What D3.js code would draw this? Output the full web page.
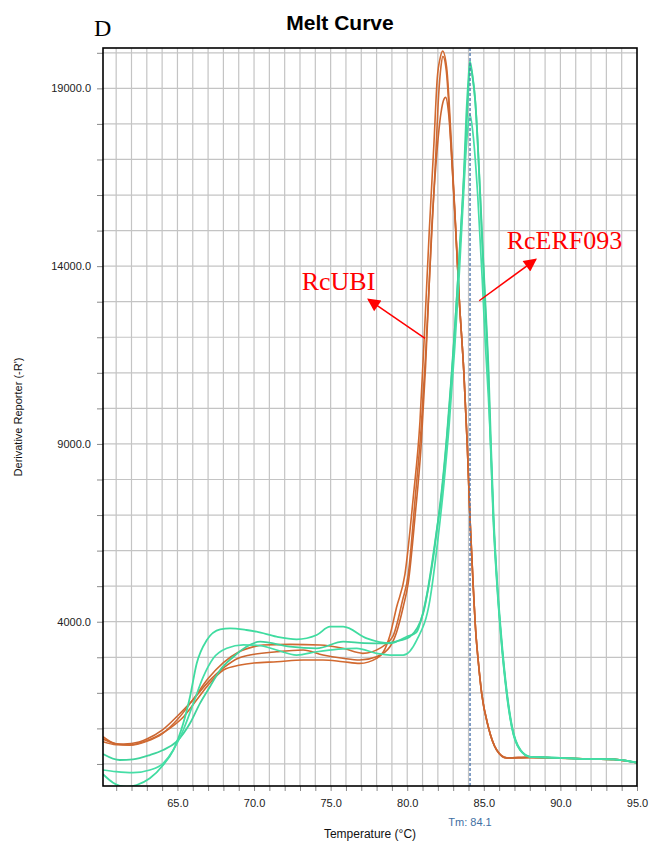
<!DOCTYPE html>
<html><head><meta charset="utf-8">
<script src="https://cdn.jsdelivr.net/npm/d3@7/dist/d3.min.js"></script>
<style>body{margin:0;background:#fff}</style>
</head><body>
<svg id="chart" width="663" height="845"></svg>
<script>
// ---------- data (temperature °C, derivative reporter -R') ----------
const ubiA_T = [60.14,61.0,61.9,62.8,63.6,64.5,65.4,66.25,67.1,68.0,69.1,70.0,71.5,73.2,74.5,75.8,76.9,78.0,78.45,78.87,79.3,79.85,80.39,80.83,81.11,81.44,81.75,81.96,82.15,82.31,82.57,82.9,83.1,83.4,83.7,83.92,84.09,84.31,84.48,84.63,84.86,85.29,85.84,86.49,88.0,90.0,92.0,93.5,94.4,95.0];
const ubiA_V = [766,561,532,625,766,1002,1328,1798,2268,2642,2782,2840,2875,2923,2923,2875,2829,2971,3156,3615,4400,5333,7478,9624,11987,14993,17500,19284,19850,20050,19600,17300,15600,13047,10985,8969,6981,4984,3674,2923,1986,1047,392,170,185,165,140,130,83,35];

const ubiB_T = [60.14,61.0,61.9,63.0,64.0,65.0,66.0,67.0,68.0,69.0,70.0,70.6,72.35,74.3,75.8,77.1,78.2,79.05,79.7,80.07,80.52,80.9,81.2,81.55,81.85,82.05,82.2,82.33,82.55,82.9,83.15,83.4,83.7,83.92,84.09,84.31,84.48,84.63,84.86,85.29,85.84,86.49,88,90,92,93.5,94.4,95];
const ubiB_V = [625,540,530,640,850,1250,1800,2400,2850,3150,3300,3345,3364,3345,3252,3111,3252,3578,4610,5333,7478,9400,11500,14500,17000,18800,19600,19900,19500,17100,15200,13047,10985,8969,6981,4984,3674,2923,1986,1047,392,170,185,165,140,130,83,35];

const ubiC_T = [60.14,61.0,61.5,62.5,63.0,64.0,65.0,66.0,67.0,68.0,69.0,69.73,71.47,73.2,74.5,75.8,76.9,78.0,78.87,79.3,79.74,80.07,80.52,80.9,81.2,81.59,81.9,82.2,82.4,82.51,82.7,83.0,83.2,83.4,83.7,83.92,84.09,84.31,84.48,84.63,84.86,85.29,85.84,86.49,88,90,92,93.5,94.4,95];
const ubiC_V = [700,570,560,620,700,950,1350,1800,2300,2700,2980,3063,3156,3204,3063,2971,2923,3016,3297,3700,4422,5100,7000,8900,11200,14993,17000,18300,18700,18747,18300,16300,14700,13047,10985,8969,6981,4984,3674,2923,1986,1047,392,170,185,165,140,130,83,35];

const erfA_T = [60.14,60.8,61.68,62.34,63.2,64.07,64.73,65.38,65.82,66.26,66.92,67.79,68.43,69.5,70.17,71.47,72.78,74.09,74.96,75.82,77.36,78.87,79.96,80.6,81.0,81.3,81.6,81.9,82.2,82.5,82.75,83.0,83.25,83.5,83.7,83.85,84.0,84.09,84.25,84.42,84.6,84.75,84.9,85.07,85.29,85.44,85.61,85.87,86.1,86.49,86.82,87.36,88.01,89,90,91.8,93.5,94.4,95];
const erfA_V = [-290,-528,-640,-592,-404,-30,392,1143,1892,2830,3485,3786,3814,3767,3719,3578,3505,3626,3860,3860,3533,3393,3578,3700,4200,4800,5600,6500,7400,8700,10000,11500,13200,15000,16600,18200,19300,19768,19400,18747,17500,16064,14600,13047,10985,8969,6981,4984,3674,1986,1047,392,200,185,170,139,130,83,35];

const erfB_T = [60.14,61.23,62.1,63.2,64.07,64.94,65.82,66.47,67.12,67.79,68.66,69.5,70.4,72.35,74.09,75.82,77.2,78.43,79.3,80.17,81.04,81.4,81.7,82.0,82.3,82.6,82.85,83.1,83.35,83.6,83.8,83.95,84.1,84.27,84.45,84.62,84.78,84.95,85.1,85.32,85.47,85.64,85.9,86.13,86.52,86.85,87.4,88.05,89,90,91.8,93.5,94.4,95];
const erfB_V = [280,111,130,251,392,625,1143,1705,2172,2642,3016,3297,3438,3297,3252,3438,3400,3393,3450,3578,4236,5000,5800,6800,7900,9300,10700,12200,13900,15700,17300,18600,19650,19300,18600,17300,15900,14300,13000,10950,8950,6950,4950,3650,1970,1040,390,200,185,170,139,130,83,35];

const erfC_T = [60.14,61.0,62.1,63.2,64.07,64.73,65.38,66.04,66.69,67.34,68.22,69.3,70.4,71.47,72.78,74.09,75.5,76.7,78.0,78.87,79.74,80.62,81.48,82.0,82.4,82.75,83.1,83.4,83.65,83.9,84.09,84.3,84.6,84.9,85.1,85.3,85.45,85.62,85.88,86.11,86.5,86.83,87.38,88.02,89,90,91.8,93.5,94.4,95];
const erfC_V = [-170,-218,-246,-170,18,392,955,1705,2454,2971,3252,3350,3330,3204,3063,3156,3230,3252,3111,3063,3063,3485,4610,6300,7900,9600,11700,13800,15800,17600,18266,17700,16000,13600,11800,10300,8950,6970,4970,3660,1980,1045,390,200,185,170,139,130,83,35];

const xMinorTicks = d3.range(61, 96, 1);
const xTickLabels = [65, 70, 75, 80, 85, 90, 95];
const yMinorTicks = d3.range(0, 20001, 1000);
const yTickLabels = [4000, 9000, 14000, 19000];
const tmValue = 84.1;
const geneLabels = ["RcUBI", "RcERF093"];
// annotation anchors in data space: [textX, textY, tailX, tailY, tipX, tipY]
const ubiNote = [73.11, 13328, 81.16, 11970, 77.45, 13066];
const erfNote = [86.49, 14481, 84.70, 13027, 88.40, 14191];

// ---------- drawing ----------
const svg = d3.select("#chart");
const L = 103, R = 637, T = 48, B = 786;
const x = d3.scaleLinear().domain([60.14, 95]).range([L, R]);
const y = d3.scaleLinear().domain([-620, 20135]).range([B, T]);

svg.append("rect").attr("width", 663).attr("height", 845).attr("fill", "#fff");

svg.append("defs").append("clipPath").attr("id", "plotclip")
  .append("rect").attr("x", L).attr("y", T).attr("width", R - L).attr("height", B - T);

// grid
const grid = svg.append("g");
grid.selectAll("line.v").data(xMinorTicks.filter(d => d < 95)).join("line")
  .attr("x1", d => x(d)).attr("x2", d => x(d)).attr("y1", T).attr("y2", B)
  .attr("stroke", "#c4c4c4").attr("stroke-width", 1.2);
grid.selectAll("line.h").data(yMinorTicks).join("line")
  .attr("x1", L).attr("x2", R).attr("y1", d => y(d)).attr("y2", d => y(d))
  .attr("stroke", "#c4c4c4").attr("stroke-width", 1.2);

// axes
const font = "'Liberation Sans', Arial, sans-serif";
const yAxis = d3.axisLeft(y).tickValues(yMinorTicks).tickSize(6).tickPadding(6)
  .tickFormat(d => yTickLabels.includes(d) ? d.toFixed(1) : "");
const gy = svg.append("g").attr("transform", `translate(${L},0)`).call(yAxis);
gy.select(".domain").remove();
gy.selectAll(".tick line").attr("stroke", "#8a8a8a");
gy.selectAll("text").attr("font-family", font).attr("font-size", 11).attr("fill", "#222");

const xAxis = d3.axisBottom(x).tickValues(xMinorTicks).tickSize(5).tickPadding(8)
  .tickFormat(d => xTickLabels.includes(d) ? d.toFixed(1) : "");
const gx = svg.append("g").attr("transform", `translate(0,${B})`).call(xAxis);
gx.select(".domain").remove();
gx.selectAll(".tick line").attr("stroke", "#8a8a8a");
gx.selectAll("text").attr("font-family", font).attr("font-size", 11).attr("fill", "#222");

// curves
const line = d3.line().x(d => x(d[0])).y(d => y(d[1])).curve(d3.curveMonotoneX);
const zip = (t, v) => t.map((d, i) => [d, v[i]]);
const curves = [
  {t: ubiA_T, v: ubiA_V, c: "#d2692f", w: 1.6},
  {t: ubiB_T, v: ubiB_V, c: "#cf6a33", w: 1.6},
  {t: ubiC_T, v: ubiC_V, c: "#cc6630", w: 1.6},
  {t: erfA_T, v: erfA_V, c: "#3fdca0", w: 1.8},
  {t: erfB_T, v: erfB_V, c: "#3fd49c", w: 1.8},
  {t: erfC_T, v: erfC_V, c: "#45dea6", w: 1.7}
];
const cg = svg.append("g").attr("clip-path", "url(#plotclip)");
cg.selectAll("path").data(curves).join("path")
  .attr("d", d => line(zip(d.t, d.v)))
  .attr("fill", "none").attr("stroke", d => d.c).attr("stroke-width", d => d.w)
  .attr("stroke-linejoin", "round");

// Tm line
svg.append("line").attr("x1", x(tmValue)).attr("x2", x(tmValue)).attr("y1", T).attr("y2", B)
  .attr("stroke", "#4f78b0").attr("stroke-width", 1.4).attr("stroke-dasharray", "3,2");

// frame
svg.append("rect").attr("x", L).attr("y", T).attr("width", R - L).attr("height", B - T)
  .attr("fill", "none").attr("stroke", "#000").attr("stroke-width", 1.6);

// titles
svg.append("text").attr("x", 340).attr("y", 30).attr("text-anchor", "middle")
  .attr("font-family", font).attr("font-weight", "bold").attr("font-size", 21).text("Melt Curve");
svg.append("text").attr("x", 94).attr("y", 36).attr("font-family", "'Liberation Serif', 'Times New Roman', serif")
  .attr("font-size", 24).text("D");
svg.append("text").attr("x", (L + R) / 2).attr("y", 838).attr("text-anchor", "middle")
  .attr("font-family", font).attr("font-size", 12).attr("fill", "#111").text("Temperature (°C)");
svg.append("text").attr("transform", `translate(22,${(T + B) / 2}) rotate(-90)`).attr("text-anchor", "middle")
  .attr("font-family", font).attr("font-size", 11).attr("fill", "#111").text("Derivative Reporter (-R')");
svg.append("text").attr("x", x(tmValue)).attr("y", 826).attr("text-anchor", "middle")
  .attr("font-family", font).attr("font-size", 11).attr("fill", "#3f6fa3").text("Tm: " + tmValue.toFixed(1));

// annotations
const red = "#ff0000";
const defs = svg.select("defs");
defs.append("marker").attr("id", "ah").attr("viewBox", "0 0 10 10").attr("refX", 9).attr("refY", 5)
  .attr("markerWidth", 15).attr("markerHeight", 13).attr("markerUnits", "userSpaceOnUse")
  .attr("orient", "auto")
  .append("path").attr("d", "M0,0 L10,5 L0,10 z").attr("fill", red);
[ubiNote, erfNote].forEach((n, i) => {
  svg.append("line").attr("x1", x(n[2])).attr("y1", y(n[3])).attr("x2", x(n[4])).attr("y2", y(n[5]))
    .attr("stroke", red).attr("stroke-width", 1.5).attr("marker-end", "url(#ah)");
  svg.append("text").attr("x", x(n[0])).attr("y", y(n[1]))
    .attr("font-family", "'Liberation Serif', 'Times New Roman', serif").attr("font-size", 26)
    .attr("fill", red).text(geneLabels[i]);
});
</script>
</body></html>
